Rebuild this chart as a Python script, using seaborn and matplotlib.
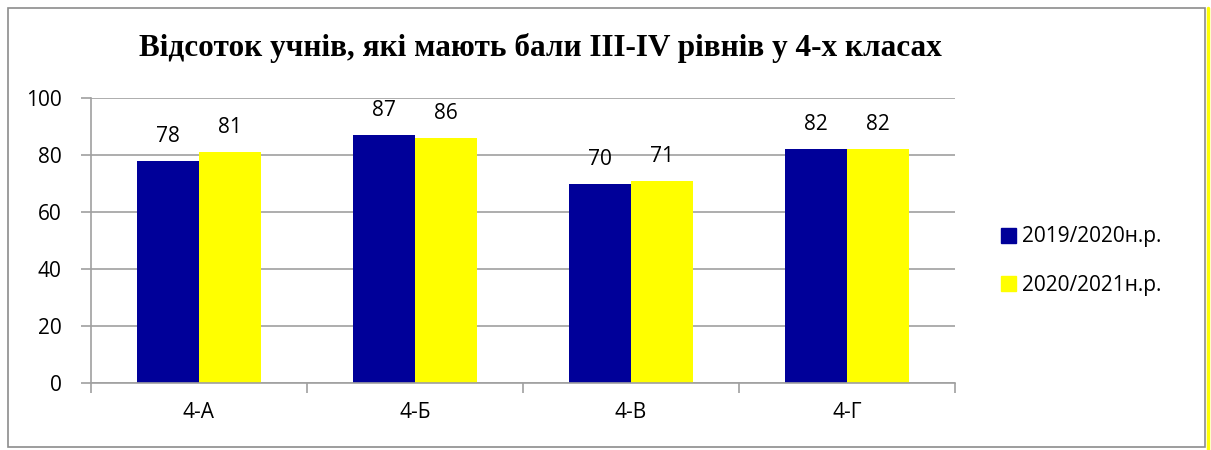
import matplotlib
matplotlib.use('Agg')
import matplotlib.pyplot as plt
import matplotlib.patches as mpatches
import seaborn as sns
import pandas as pd

# data
classes = ['4-А', '4-Б', '4-В', '4-Г']
years = ['2019/2020н.р.', '2020/2021н.р.']
vals_2019 = [78, 87, 70, 82]
vals_2020 = [81, 86, 71, 82]
colors = ['#000099', '#FFFF00']
title = 'Відсоток учнів, які мають бали ІІІ-ІV рівнів у 4-х класах'

df = pd.DataFrame({
    'class': classes * 2,
    'year': [years[0]] * 4 + [years[1]] * 4,
    'value': vals_2019 + vals_2020,
})

sns.set_theme(style='white')
plt.rcParams['font.family'] = ['Open Sans', 'DejaVu Sans']
plt.rcParams['text.color'] = 'black'
plt.rcParams['xtick.color'] = 'black'
plt.rcParams['ytick.color'] = 'black'

fig = plt.figure(figsize=(12.11, 4.5), dpi=100)
ax = fig.add_axes([0.0751, 0.149, 0.7135, 0.633])

sns.barplot(data=df, x='class', y='value', hue='year', palette=colors,
            width=0.574, saturation=1, linewidth=0, ax=ax, legend=False)

grid_c = '#a0a0a0'
fs = 15
ax.set_ylim(0, 100)
ax.set_xlim(-0.5, 3.5)
ax.set_yticks(range(0, 101, 20))
ax.yaxis.grid(True, color=grid_c, linewidth=1.2)
ax.set_axisbelow(True)
for s in ['top', 'right']:
    ax.spines[s].set_visible(False)
for s in ['left', 'bottom']:
    ax.spines[s].set_color(grid_c)
    ax.spines[s].set_linewidth(1.2)
ax.tick_params(axis='y', length=7, color=grid_c, width=1.2, labelsize=fs, pad=14,
               left=True, labelcolor='black')
ax.tick_params(axis='x', length=0, labelsize=fs, pad=14, labelcolor='black')
ax.set_xticks(range(4), minor=False)
ax.set_xticks([-0.5, 0.5, 1.5, 2.5, 3.5], minor=True)
ax.tick_params(axis='x', which='minor', length=7, color=grid_c, width=1.2, bottom=True)
ax.set_xlabel('')
ax.set_ylabel('')

for cont in ax.containers:
    ax.bar_label(cont, fmt='%d', padding=10, fontsize=fs, color='black')

fig.text(0.446, 0.893, title, ha='center', va='center', fontsize=22.5,
         fontweight='bold', family='Liberation Serif', color='black')

handles = [mpatches.Patch(color=c, label=y) for c, y in zip(colors, years)]
fig.legend(handles=handles, loc='center left', bbox_to_anchor=(0.811, 0.42),
           frameon=False, fontsize=fs, handlelength=0.75, handleheight=0.75,
           handletextpad=0.25, labelspacing=1.3)

# chart frame and the yellow edge on the right
fig.patches.append(mpatches.Rectangle((8 / 1211, 3 / 450), 1197 / 1211, 439 / 450,
                                      transform=fig.transFigure, fill=False,
                                      edgecolor='#8c8c8c', linewidth=1.2))
fig.lines.append(plt.Line2D([1208 / 1211, 1208 / 1211], [0, 442 / 450],
                            transform=fig.transFigure, color='#FFFF00', linewidth=2.5))

fig.savefig('out.png', dpi=100)
